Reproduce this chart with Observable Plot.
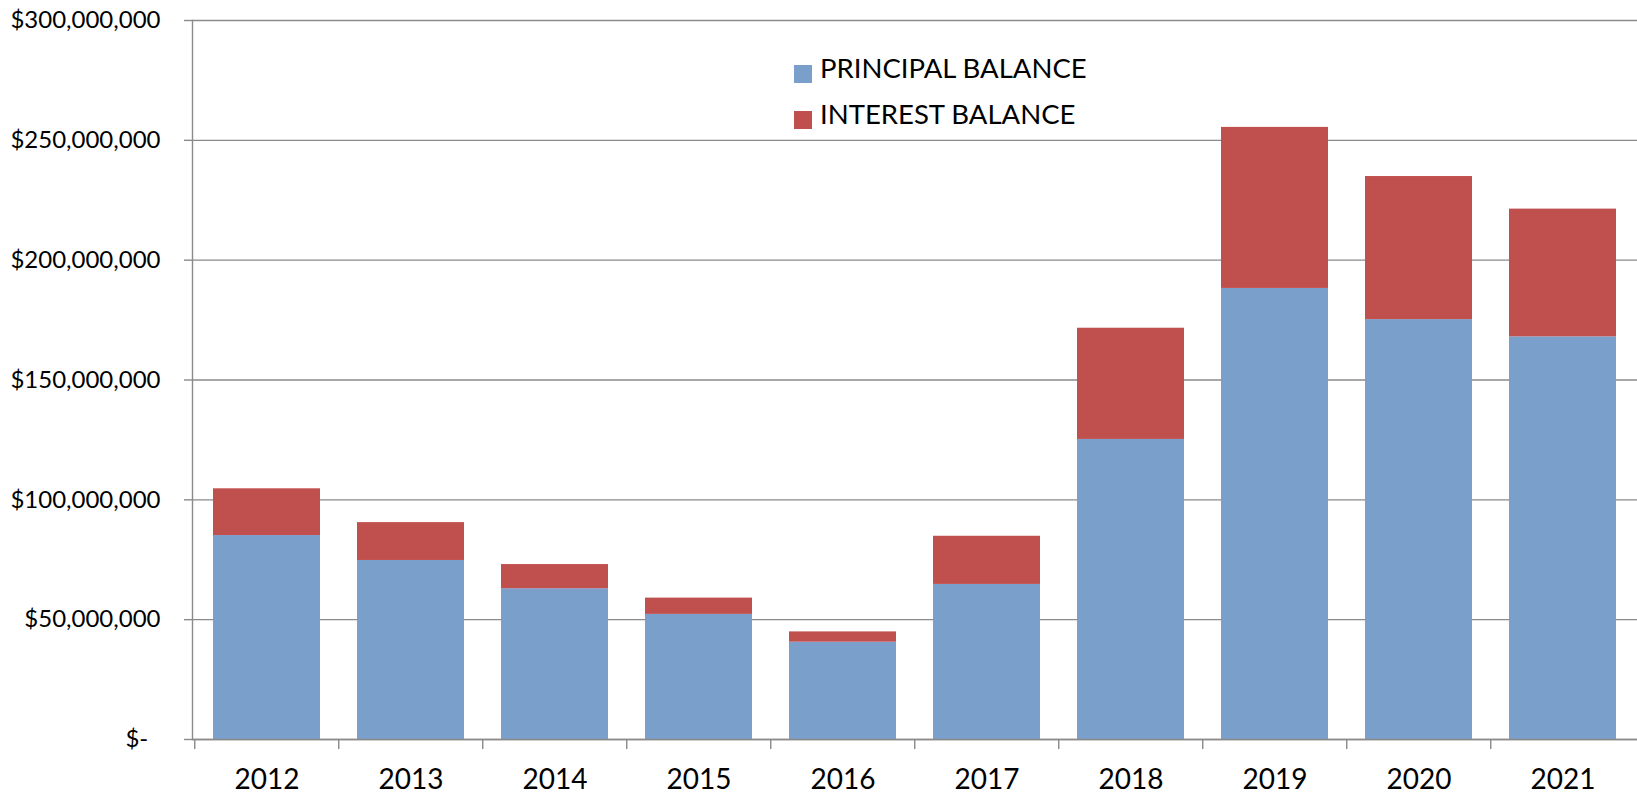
<!DOCTYPE html>
<html><head><meta charset="utf-8">
<script src="https://cdn.jsdelivr.net/npm/d3@7"></script>
<script src="https://cdn.jsdelivr.net/npm/@observablehq/plot@0.6"></script>
<style>
body{margin:0;background:#fff;}
#wrap{position:relative;width:1637px;height:796px;font-family:Lato,sans-serif;}
#legend{position:absolute;left:794px;top:45px;}
.row{display:flex;align-items:flex-start;height:46px;line-height:46px;font-size:27.5px;color:#000;white-space:nowrap;}
.sw{width:18px;height:18px;margin-top:19.5px;margin-right:8px;flex:none;}
</style></head><body><div id="wrap"></div>
<script>
const years = ["2012","2013","2014","2015","2016","2017","2018","2019","2020","2021"];
const principal = [85.1e6, 74.7e6, 62.9e6, 52.2e6, 40.6e6, 64.7e6, 125.2e6, 188.2e6, 175.2e6, 168.0e6];
const interest = [19.5e6, 15.8e6, 10.1e6, 6.8e6, 4.3e6, 20.1e6, 46.4e6, 67.2e6, 59.7e6, 53.3e6];
const seriesNames = ["PRINCIPAL BALANCE", "INTEREST BALANCE"];
const seriesColors = ["#7B9FCB", "#C0504E"];
const yTicks = [0, 50e6, 100e6, 150e6, 200e6, 250e6, 300e6];

const rows = [];
years.forEach((y, i) => {
  rows.push({year: y, series: seriesNames[0], value: principal[i]});
  rows.push({year: y, series: seriesNames[1], value: interest[i]});
});

const W = 1637, H = 796, ML = 192, MR = 0, MT = 20, MB = 57;
const step = (W - ML - MR) / years.length;
const grey = "#8a8a8a";
const fmt = d => d === 0 ? "$-\u00a0\u00a0" : d3.format("$,.0f")(d);

const chart = Plot.plot({
  width: W, height: H,
  marginLeft: ML, marginRight: MR, marginTop: MT, marginBottom: MB,
  style: {fontFamily: "Lato, sans-serif", background: "white", color: "black", overflow: "visible"},
  x: {type: "band", domain: years, paddingInner: 0.26, paddingOuter: 0.13, label: null},
  y: {domain: [0, 300e6], label: null},
  color: {domain: seriesNames, range: seriesColors},
  marks: [
    Plot.gridY(yTicks, {stroke: grey, strokeOpacity: 1, strokeWidth: 1.4}),
    Plot.barY(rows, {x: "year", y: "value", fill: "series", order: seriesNames}),
    Plot.ruleY([0], {stroke: grey, strokeWidth: 1.4}),
    Plot.frame({anchor: "left", stroke: grey, strokeWidth: 1.4}),
    Plot.axisY({ticks: yTicks, tickSize: 8, tickPadding: 24, tickFormat: fmt, stroke: grey, strokeOpacity: 1, strokeWidth: 1.4, fontSize: 24, fill: "black", label: null}),
    Plot.axisX({tickSize: 10, dx: -step / 2, tickFormat: () => "", stroke: grey, strokeOpacity: 1, strokeWidth: 1.4, label: null}),
    Plot.axisX({tickSize: 0, tickPadding: 30, fontSize: 28, fill: "black", label: null})
  ]
});

const wrap = document.getElementById("wrap");
wrap.appendChild(chart);
const legend = document.createElement("div");
legend.id = "legend";
seriesNames.forEach((n, i) => {
  const r = document.createElement("div");
  r.className = "row";
  const s = document.createElement("span");
  s.className = "sw";
  s.style.background = seriesColors[i];
  const t = document.createElement("span");
  t.textContent = n;
  r.appendChild(s); r.appendChild(t);
  legend.appendChild(r);
});
wrap.appendChild(legend);
</script>
</body></html>
